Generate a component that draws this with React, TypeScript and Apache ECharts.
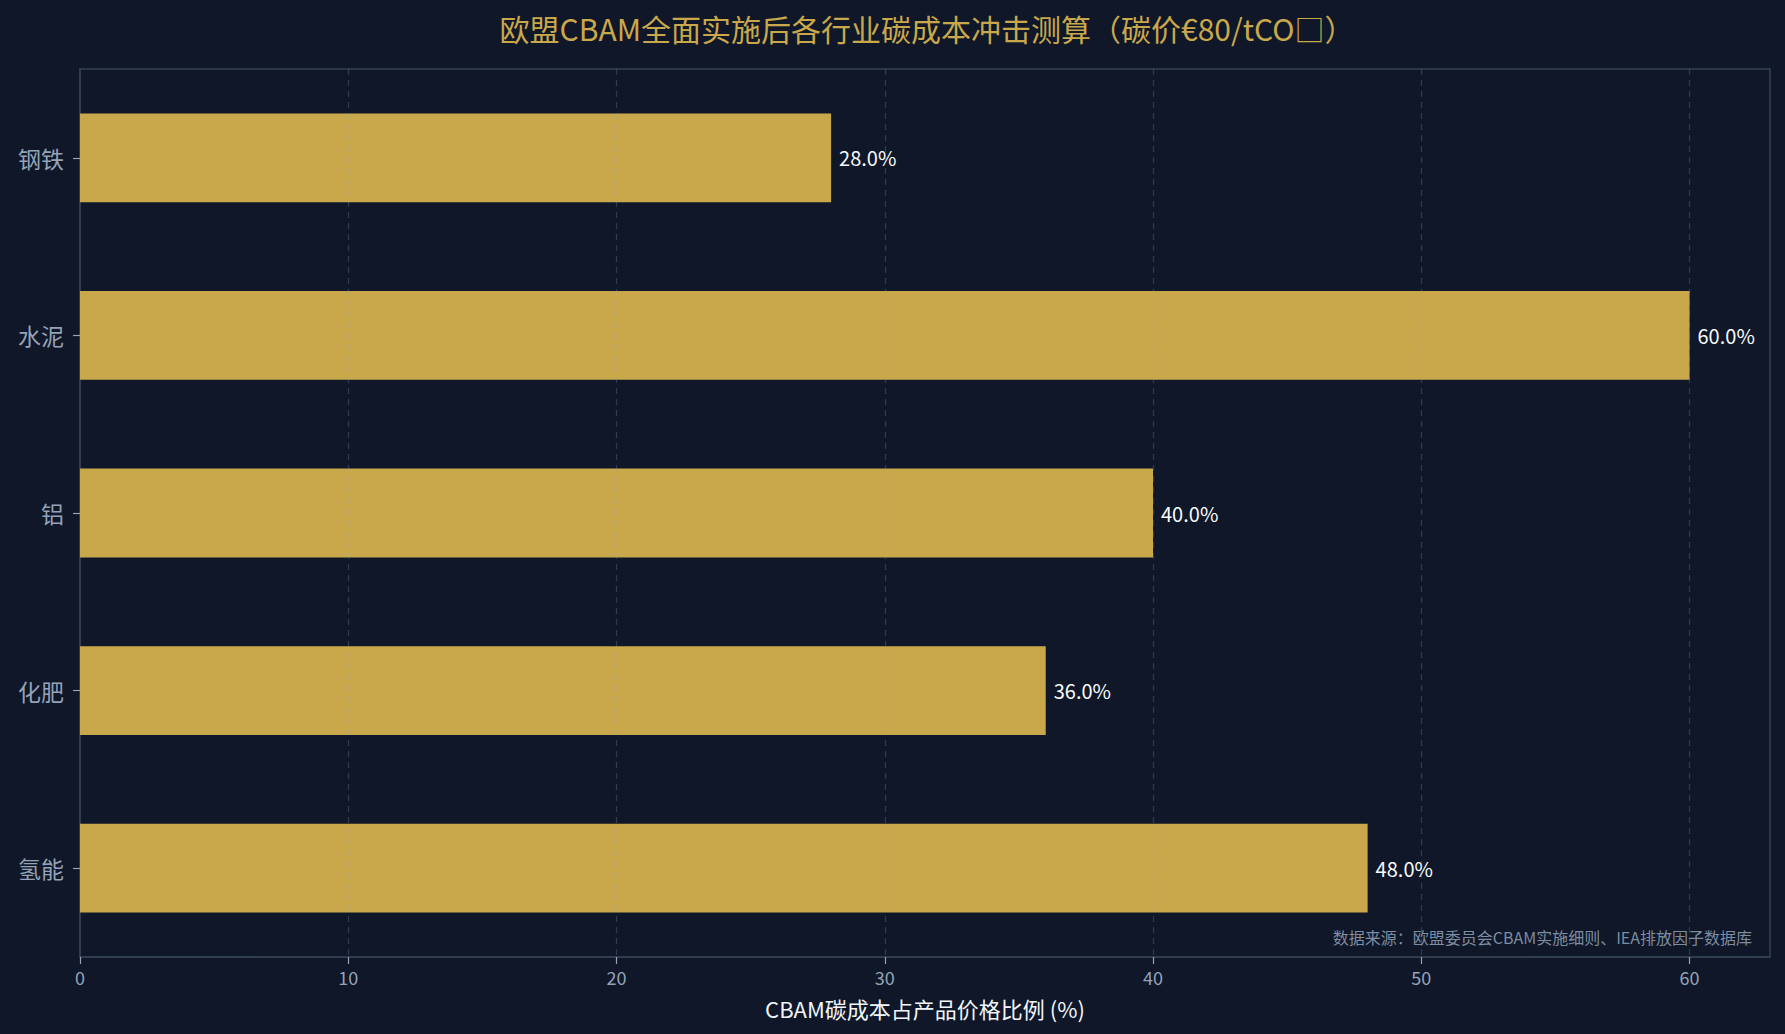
import { useEffect, useRef } from 'react'
import * as echarts from 'echarts'

// ===== 数据 =====
const industries = ['钢铁', '水泥', '铝', '化肥', '氢能']
const costShare = [28.0, 60.0, 40.0, 36.0, 48.0]
const gridTicks = [10, 20, 30, 40, 50, 60]

const TITLE = '欧盟CBAM全面实施后各行业碳成本冲击测算（碳价€80/tCO□）'
const X_NAME = 'CBAM碳成本占产品价格比例 (%)'
const SOURCE = '数据来源：欧盟委员会CBAM实施细则、IEA排放因子数据库'

const BG = '#0f1729'
const GOLD = '#c9a84c'
const MUTED = '#94a3b8'
const FRAME = '#334155'
const FONT = '"Noto Sans CJK SC", "Noto Sans", sans-serif'

export default function App() {
  const ref = useRef<HTMLDivElement>(null)

  useEffect(() => {
    document.body.style.margin = '0'
    document.body.style.background = BG
    if (!ref.current) return
    const chart = echarts.init(ref.current, undefined, { renderer: 'svg' })
    chart.setOption({
      animation: false,
      backgroundColor: BG,
      textStyle: { fontFamily: FONT },
      title: {
        text: TITLE,
        left: 922,
        top: 8,
        textAlign: 'center',
        textStyle: { color: GOLD, fontSize: 30, fontWeight: 'normal', fontFamily: FONT },
      },
      grid: {
        left: 80,
        right: 15,
        top: 69,
        bottom: 77,
        show: true,
        borderColor: FRAME,
        borderWidth: 1.5,
        backgroundColor: 'transparent',
      },
      xAxis: {
        type: 'value',
        min: 0,
        max: 63,
        interval: 10,
        name: X_NAME,
        nameLocation: 'middle',
        nameGap: 40,
        nameTextStyle: { color: '#f1f5f9', fontSize: 22, fontFamily: FONT },
        axisLine: { show: true, lineStyle: { color: FRAME, width: 1.5 } },
        axisTick: { show: true, length: 7, lineStyle: { color: MUTED, width: 1.2 } },
        axisLabel: {
          color: MUTED,
          fontSize: 18,
          margin: 11,
          showMaxLabel: false,
          formatter: (v: number) => (v % 10 === 0 ? String(v) : ''),
        },
        splitLine: { show: false },
      },
      yAxis: {
        type: 'category',
        data: industries,
        inverse: true,
        axisLine: { show: true, lineStyle: { color: FRAME, width: 1.5 } },
        axisTick: { show: true, length: 7, alignWithLabel: true, lineStyle: { color: MUTED, width: 1.2 } },
        axisLabel: { color: MUTED, fontSize: 23, margin: 16 },
        splitLine: { show: false },
      },
      series: [
        {
          type: 'bar',
          data: costShare,
          barWidth: '50%',
          itemStyle: { color: GOLD },
          label: {
            show: true,
            position: 'right',
            distance: 8,
            color: '#f8fafc',
            fontSize: 20,
            fontFamily: FONT,
            formatter: (p: { value: number }) => `${p.value.toFixed(1)}%`,
          },
          markLine: {
            silent: true,
            symbol: 'none',
            label: { show: false },
            lineStyle: { color: 'rgba(148,163,184,0.25)', type: [6, 5], width: 1.3 },
            data: gridTicks.map((t) => ({ xAxis: t })),
          },
          z: 2,
        },
      ],
      graphic: [
        {
          type: 'text',
          right: 33,
          top: 929,
          style: {
            text: SOURCE,
            fill: 'rgba(148,163,184,0.85)',
            fontSize: 16,
            fontFamily: FONT,
          },
        },
      ],
    })
    return () => chart.dispose()
  }, [])

  return <div ref={ref} style={{ width: 1785, height: 1034 }} />
}
